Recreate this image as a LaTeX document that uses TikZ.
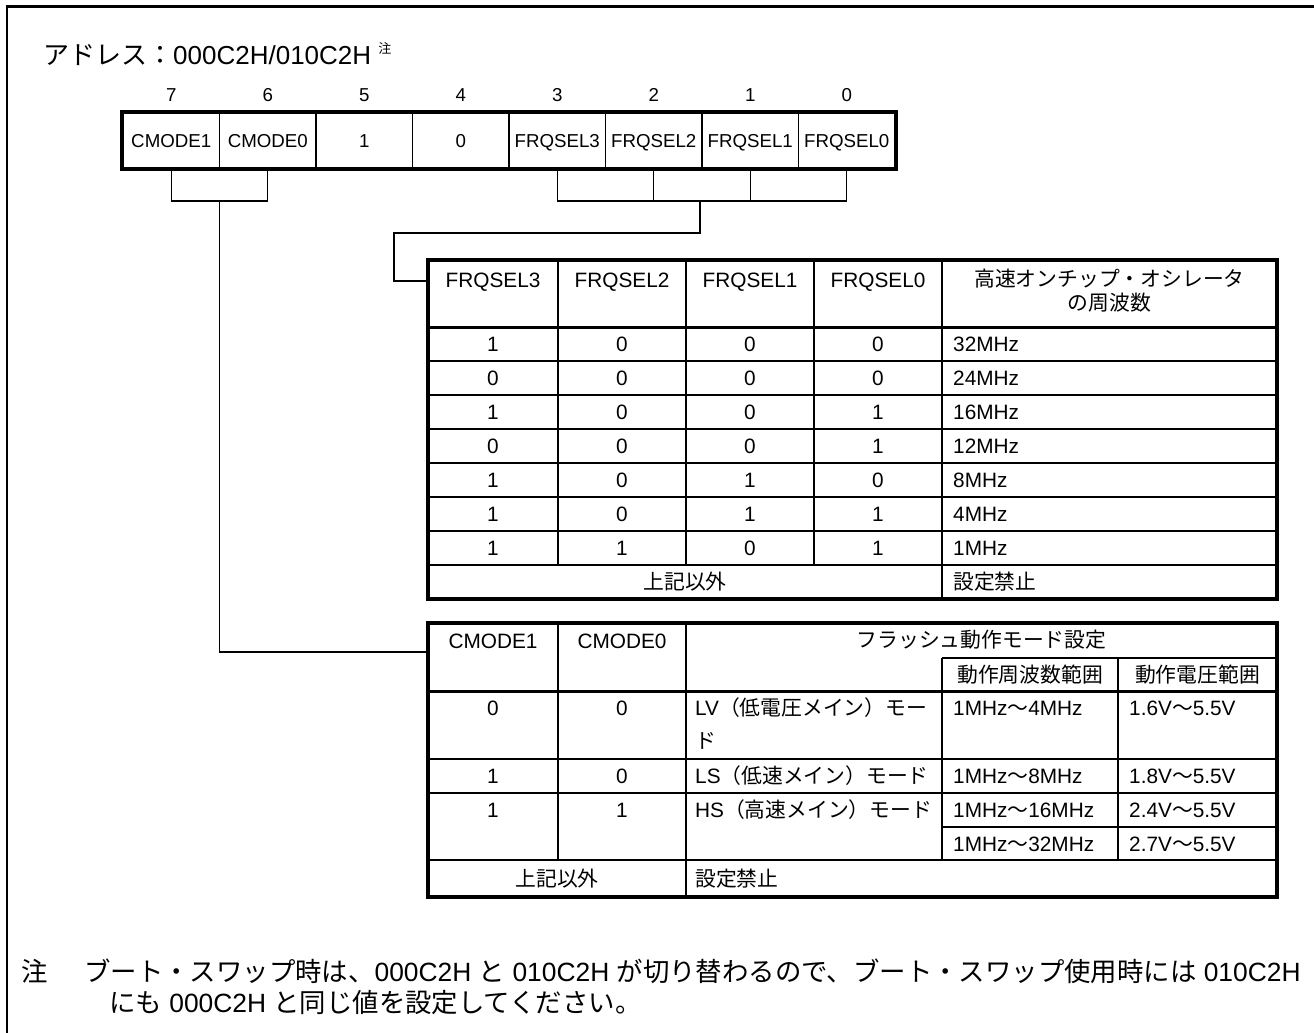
\documentclass[tikz,border=0pt]{standalone}
\usepackage{fontspec}
\setmainfont{Liberation Sans}
\newfontfamily\jpf{Noto Sans CJK JP}
\newcommand\J[1]{{\jpf #1}}
\begin{document}
\begin{tikzpicture}[x=1pt,y=-1pt,
  reg/.style={font=\fontsize{18.7}{20}\selectfont, inner sep=0pt, text height=13.4pt, text depth=0pt},
  tab/.style={font=\fontsize{20.8}{24}\selectfont, inner sep=0pt, text height=14.9pt, text depth=0pt},
  big/.style={font=\fontsize{26}{30}\selectfont, inner sep=0pt, text height=18.6pt, text depth=0pt},
  notetxt/.style={font=\fontsize{26.4}{30}\selectfont, inner sep=0pt, text height=18.9pt, text depth=0pt},
  regcell/.style={reg, draw, line width=1.3pt, minimum width=96.5pt, minimum height=55pt},
  conn/.style={line width=1.3pt},
  frameline/.style={line width=4pt},
  thinline/.style={line width=1.4pt},
  midline/.style={line width=2.2pt},
  sepline/.style={line width=3pt}]
\useasboundingbox (0,0) rectangle (1314,1033);
% outer frame (open at right and bottom)
\draw[line width=2.2pt] (6.6,1040) -- (6.6,6.6) -- (1320,6.6);

% title
\node[big, anchor=west] (title) at (43,55) {\J{アドレス：}000C2H/010C2H \raisebox{0.42em}{\fontsize{13}{13}\selectfont\J{注}}};

% register
\foreach \i/\t [count=\k from 0] in {7/CMODE1,6/CMODE0,5/1,4/0,3/FRQSEL3,2/FRQSEL2,1/FRQSEL1,0/FRQSEL0} {
  \node[regcell] (r\i) at ({171.25+96.5*\k},140.5) {\t};
  \node[reg] (b\i) at ({171.25+96.5*\k},95) {\i};
}
\draw[frameline] (r7.north west) rectangle (r0.south east);

% connectors
\coordinate (cmb) at (219.5,201);
\coordinate (fqb) at (700,201);
\coordinate (fk1) at (394,233);
\coordinate (t1in) at (428,281);
\coordinate (t2in) at (428,652);
\draw[conn] (r7.south) |- (cmb) -| (r6.south);
\draw[conn] (cmb) |- (t2in);
\draw[conn] (r3.south) |- (fqb) -| (r0.south);
\draw[conn] (r2.south) -- (r2.south |- fqb);
\draw[conn] (r1.south) -- (r1.south |- fqb);
\draw[conn] (fqb) |- (fk1) |- (t1in);

% ---------- table 1 ----------
\foreach \y in {361,395,429,463,497,531,565} \draw[midline] (428,\y) -- (1277,\y);
\foreach \x in {558,686,814} \draw[thinline] (\x,260) -- (\x,565);
\draw[thinline] (942,260) -- (942,599);
\draw[sepline] (428,327) -- (1277,327);
\draw[frameline] (428,260) rectangle (1277,599);

\node[tab] (h3) at (493,280) {FRQSEL3};
\node[tab] (h2) at (622,280) {FRQSEL2};
\node[tab] (h1) at (750,280) {FRQSEL1};
\node[tab] (h0) at (878,280) {FRQSEL0};
\node[tab] (hf1) at (1109.5,279) {\J{高速オンチップ・オシレータ}};
\node[tab] (hf2) at (1109.5,303) {\J{の周波数}};

\foreach \a/\b/\c/\d/\f [count=\n from 0] in {1/0/0/0/32MHz,0/0/0/0/24MHz,1/0/0/1/16MHz,0/0/0/1/12MHz,1/0/1/0/8MHz,1/0/1/1/4MHz,1/1/0/1/1MHz} {
  \node[tab] (ra\n) at (493,{344+34*\n}) {\a};
  \node[tab] (rb\n) at (622,{344+34*\n}) {\b};
  \node[tab] (rc\n) at (750,{344+34*\n}) {\c};
  \node[tab] (rd\n) at (878,{344+34*\n}) {\d};
  \node[tab, anchor=west] (rf\n) at (953,{344+34*\n}) {\f};
}
\node[tab] (o1) at (685,582) {\J{上記以外}};
\node[tab, anchor=west] (p1) at (953,582) {\J{設定禁止}};

% ---------- table 2 ----------
\draw[midline] (942,658) -- (1277,658);
\foreach \y in {759,793,860} \draw[midline] (428,\y) -- (1277,\y);
\draw[midline] (942,827) -- (1277,827);
\draw[thinline] (558,623) -- (558,860);
\draw[thinline] (686,623) -- (686,897);
\draw[thinline] (942,658) -- (942,860);
\draw[thinline] (1118,658) -- (1118,860);
\draw[sepline] (428,691) -- (1277,691);
\draw[frameline] (428,623) rectangle (1277,897);

\node[tab] (c1) at (493,641) {CMODE1};
\node[tab] (c0) at (622,641) {CMODE0};
\node[tab] (fm) at (981.5,640) {\J{フラッシュ動作モード設定}};
\node[tab] (fr) at (1030,675) {\J{動作周波数範囲}};
\node[tab] (vr) at (1197.5,675) {\J{動作電圧範囲}};

\node[tab] (lv1) at (493,708) {0};
\node[tab] (lv0) at (622,708) {0};
\node[tab, anchor=west] (lvm) at (695,708) {LV\J{（低電圧メイン）モー}};
\node[tab, anchor=west] (lvm2) at (695,741) {\J{ド}};
\node[tab, anchor=west] (lvf) at (953,708) {1MHz\J{～}4MHz};
\node[tab, anchor=west] (lvv) at (1129,708) {1.6V\J{～}5.5V};

\node[tab] (ls1) at (493,776) {1};
\node[tab] (ls0) at (622,776) {0};
\node[tab, anchor=west] (lsm) at (695,776) {LS\J{（低速メイン）モード}};
\node[tab, anchor=west] (lsf) at (953,776) {1MHz\J{～}8MHz};
\node[tab, anchor=west] (lsv) at (1129,776) {1.8V\J{～}5.5V};

\node[tab] (hs1) at (493,810) {1};
\node[tab] (hs0) at (622,810) {1};
\node[tab, anchor=west] (hsm) at (695,810) {HS\J{（高速メイン）モード}};
\node[tab, anchor=west] (hsf) at (953,810) {1MHz\J{～}16MHz};
\node[tab, anchor=west] (hsv) at (1129,810) {2.4V\J{～}5.5V};
\node[tab, anchor=west] (hsf2) at (953,844) {1MHz\J{～}32MHz};
\node[tab, anchor=west] (hsv2) at (1129,844) {2.7V\J{～}5.5V};

\node[tab] (o2) at (557,879) {\J{上記以外}};
\node[tab, anchor=west] (p2) at (695,879) {\J{設定禁止}};

% ---------- note ----------
\node[notetxt, anchor=west] (nmark) at (21,972) {\J{注}};
\node[notetxt, anchor=west] (n1) at (84,972) {\J{ブート・スワップ時は、}000C2H \J{と} 010C2H \J{が切り替わるので、ブート・スワップ使用時には} 010C2H};
\node[notetxt, anchor=west] (n2) at (109,1003) {\J{にも} 000C2H \J{と同じ値を設定してください。}};
\end{tikzpicture}
\end{document}
